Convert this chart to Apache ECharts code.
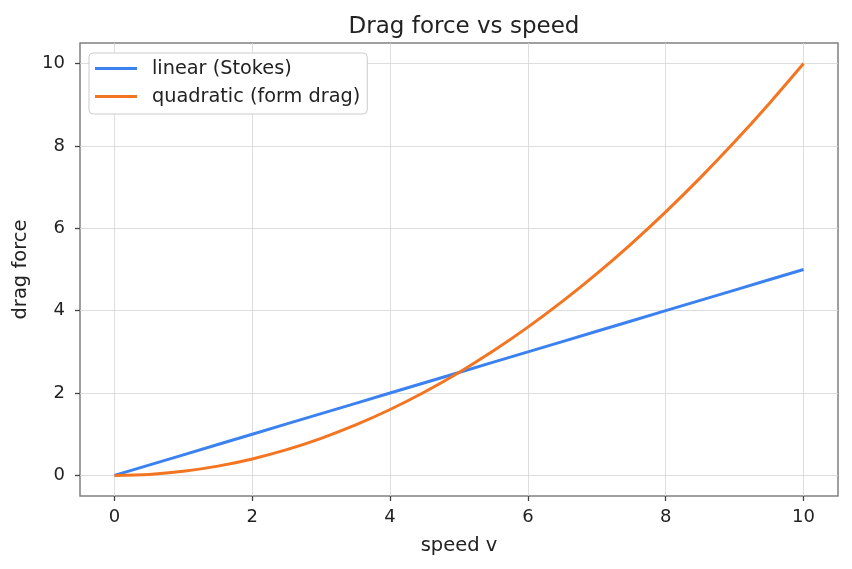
<!DOCTYPE html>
<html>
<head>
<meta charset="utf-8">
<script src="https://cdn.jsdelivr.net/npm/echarts@6/dist/echarts.min.js"></script>
<style>
  html, body { margin: 0; padding: 0; background: #fff; }
  #main { width: 852px; height: 569px; }
</style>
</head>
<body>
<div id="main"></div>
<script>
// speed values (x)
const speed = [0, 0.5, 1, 1.5, 2, 2.5, 3, 3.5, 4, 4.5, 5, 5.5, 6, 6.5, 7, 7.5, 8, 8.5, 9, 9.5, 10]
// linear (Stokes) drag
const linearDrag = [0, 0.25, 0.5, 0.75, 1, 1.25, 1.5, 1.75, 2, 2.25, 2.5, 2.75, 3, 3.25, 3.5, 3.75, 4, 4.25, 4.5, 4.75, 5]
// quadratic (form drag)
const quadDrag = [0, 0.025, 0.1, 0.225, 0.4, 0.625, 0.9, 1.225, 1.6, 2.025, 2.5, 3.025, 3.6, 4.225, 4.9, 5.625, 6.4, 7.225, 8.1, 9.025, 10]
const xTicks = [0, 2, 4, 6, 8, 10]
const yTicks = [0, 2, 4, 6, 8, 10]

const font = 'DejaVu Sans, sans-serif'
const myChart = echarts.init(document.getElementById('main'))

const pairs = (xs, ys) => xs.map((x, i) => [x, ys[i]])

myChart.setOption({
  backgroundColor: '#fff',
  animation: false,
  title: {
    text: 'Drag force vs speed',
    left: 459,
    textAlign: 'center',
    top: 11,
    textStyle: { fontFamily: font, fontSize: 23, fontWeight: 'normal', color: '#222' }
  },
  grid: {
    left: 80,
    right: 14,
    top: 43,
    bottom: 73,
    show: true,
    borderColor: '#808080',
    borderWidth: 1.5
  },
  // 图例放在左上角，线形图标
  legend: {
    orient: 'vertical',
    left: 89,
    top: 53,
    padding: [6, 7, 8, 6],
    itemGap: 9,
    itemWidth: 42,
    itemHeight: 3,
    icon: 'rect',
    backgroundColor: '#fff',
    borderColor: '#cccccc',
    borderWidth: 1,
    borderRadius: 4,
    textStyle: { fontFamily: font, fontSize: 19.3, color: '#222', padding: [0, 0, 0, 10] },
    data: ['linear (Stokes)', 'quadratic (form drag)']
  },
  xAxis: {
    type: 'value',
    min: -0.5,
    max: 10.5,
    name: 'speed v',
    nameLocation: 'middle',
    nameGap: 40,
    nameTextStyle: { fontFamily: font, fontSize: 19.5, color: '#222' },
    axisLine: { show: false, onZero: false },
    axisTick: { show: true, length: 5, customValues: xTicks, lineStyle: { color: '#444', width: 1.3 } },
    axisLabel: { customValues: xTicks, fontFamily: font, fontSize: 18, color: '#222', margin: 12 },
    splitLine: { show: true, lineStyle: { color: '#d5d5d5', width: 0.8 } }
  },
  yAxis: {
    type: 'value',
    min: -0.5,
    max: 10.5,
    name: 'drag force',
    nameLocation: 'middle',
    nameGap: 49,
    nameTextStyle: { fontFamily: font, fontSize: 19.5, color: '#222' },
    axisLine: { show: false, onZero: false },
    axisTick: { show: true, length: 5, customValues: yTicks, lineStyle: { color: '#444', width: 1.3 } },
    axisLabel: { customValues: yTicks, fontFamily: font, fontSize: 18, color: '#222', margin: 15 },
    splitLine: { show: true, lineStyle: { color: '#d5d5d5', width: 0.8 } }
  },
  series: [{
    name: 'linear (Stokes)',
    type: 'line',
    symbol: 'none',
    lineStyle: { width: 3, color: '#3b82f0' },
    itemStyle: { color: '#3b82f0' },
    data: pairs(speed, linearDrag)
  }, {
    name: 'quadratic (form drag)',
    type: 'line',
    symbol: 'none',
    smooth: 0.3,
    lineStyle: { width: 3, color: '#f47521' },
    itemStyle: { color: '#f47521' },
    data: pairs(speed, quadDrag)
  }]
})
</script>
</body>
</html>
